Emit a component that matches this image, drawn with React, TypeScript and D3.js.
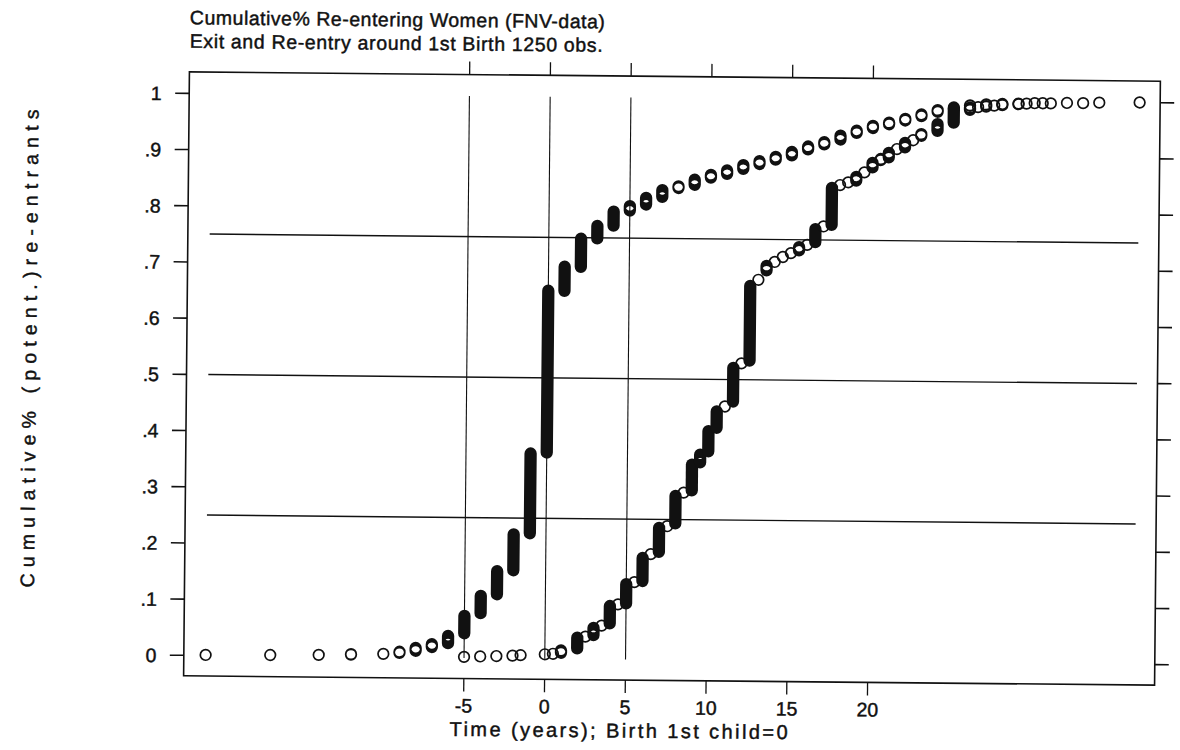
import * as d3 from "d3";

// ---------------- data ----------------
// exit from the labour market, years relative to 1st birth
const exitTime = [-21, -17, -14, -12, -10, -9, -8, -7, -6, -5, -4, -3, -2, -1, 0, 1, 2, 3, 4, 5, 6, 7, 8, 9, 10, 11, 12, 13, 14, 15, 16, 17, 18, 19, 20, 21, 22, 23, 24, 25, 26, 27, 28, 29, 30, 31, 32, 33, 34, 36.5];
const exitLo = [0.001, 0.002, 0.003, 0.004, 0.006, 0.008, 0.012, 0.019, 0.026, 0.044, 0.08, 0.114, 0.157, 0.223, 0.367, 0.655, 0.698, 0.749, 0.772, 0.799, 0.81, 0.824, 0.84, 0.846, 0.859, 0.866, 0.875, 0.884, 0.892, 0.9, 0.911, 0.92, 0.929, 0.941, 0.95, 0.957, 0.964, 0.972, 0.98, 0.986, 0.991, 0.993, 0.995, 0.996, 0.997, 0.997, 0.998, 0.998, 0.999, 1];
const exitHi = [0.001, 0.002, 0.003, 0.005, 0.006, 0.01, 0.017, 0.024, 0.039, 0.075, 0.111, 0.155, 0.221, 0.365, 0.655, 0.698, 0.748, 0.771, 0.797, 0.807, 0.822, 0.836, 0.843, 0.855, 0.864, 0.872, 0.882, 0.889, 0.897, 0.906, 0.916, 0.924, 0.936, 0.945, 0.954, 0.96, 0.967, 0.975, 0.983, 0.988, 0.992, 0.994, 0.995, 0.996, 0.997, 0.997, 0.998, 0.998, 0.999, 1];

// re-entry
const reTime = [-5, -4, -3, -2, -1.5, 0, 0.5, 1, 2, 2.5, 3, 3.5, 4, 4.5, 5, 5.5, 6, 6.5, 7, 7.5, 8, 8.5, 9, 9.5, 10, 10.5, 11, 11.5, 12, 12.5, 13, 13.5, 14, 14.5, 15, 15.5, 16, 16.5, 17, 17.5, 18, 18.5, 19, 19.5, 20, 20.5, 21, 21.5, 22, 22.5, 23, 24, 25, 26, 26.5, 27, 27.5, 28, 29, 29.5, 30.5];
const reLo = [0.002, 0.003, 0.004, 0.005, 0.006, 0.008, 0.009, 0.011, 0.019, 0.04, 0.043, 0.06, 0.064, 0.098, 0.1, 0.138, 0.14, 0.188, 0.192, 0.238, 0.243, 0.298, 0.302, 0.352, 0.372, 0.414, 0.452, 0.461, 0.529, 0.534, 0.678, 0.695, 0.71, 0.719, 0.726, 0.731, 0.741, 0.746, 0.774, 0.777, 0.848, 0.853, 0.856, 0.871, 0.88, 0.893, 0.898, 0.913, 0.916, 0.929, 0.937, 0.946, 0.961, 0.984, 0.989, 0.99, 0.992, 0.993, 0.995, 0.996, 0.997];
const reHi = [0.002, 0.003, 0.004, 0.005, 0.006, 0.008, 0.009, 0.015, 0.038, 0.04, 0.056, 0.06, 0.095, 0.098, 0.134, 0.138, 0.181, 0.188, 0.235, 0.238, 0.292, 0.298, 0.348, 0.366, 0.408, 0.443, 0.452, 0.521, 0.529, 0.667, 0.678, 0.703, 0.71, 0.719, 0.726, 0.737, 0.741, 0.769, 0.774, 0.843, 0.848, 0.853, 0.863, 0.871, 0.888, 0.895, 0.906, 0.913, 0.924, 0.929, 0.94, 0.958, 0.985, 0.988, 0.989, 0.991, 0.992, 0.994, 0.995, 0.996, 0.997];

const yTicks = [0, 0.1, 0.2, 0.3, 0.4, 0.5, 0.6, 0.7, 0.8, 0.9, 1];
const yTickLabels = ["0", ".1", ".2", ".3", ".4", ".5", ".6", ".7", ".8", ".9", "1"];
const xTicks = [-5, 0, 5, 10, 15, 20];
const refTimes = [-5, 0, 5];
const refLevels = [0.25, 0.5, 0.75];

const title1 = "Cumulative% Re-entering Women (FNV-data)";
const title2 = "Exit and Re-entry around 1st Birth 1250 obs.";
const xTitle = "Time (years); Birth 1st child=0";
const yTitle = "Cumulative% (potent.)re-entrants";

// ---------------- layout ----------------
const W = 1180, H = 750;
const left = 186.5, right = 1157.5, top = 76.5, bottom = 680.5;
const FONT = "'Liberation Sans', Arial, Helvetica, sans-serif";
const INK = "#111";
const R = 5.3; // marker radius
const SW = 1.7; // marker stroke

// overlapping hollow circles stacked from lo to hi, drawn as one outline with a hole
function stackPath(cx: number, y1: number, y2: number) {
  const a = R + SW / 2;
  const rho = R - SW / 2;
  let p = `M${cx - a},${y1}L${cx - a},${y2}A${a},${a} 0 0 0 ${cx + a},${y2}L${cx + a},${y1}A${a},${a} 0 0 0 ${cx - a},${y1}Z`;
  const s = y2 - y1;
  if (s < 2 * rho) {
    const h = Math.sqrt(rho * rho - (s * s) / 4);
    const m = (y1 + y2) / 2;
    p += `M${cx - h},${m}A${rho},${rho} 0 0 1 ${cx + h},${m}A${rho},${rho} 0 0 1 ${cx - h},${m}Z`;
  }
  return p;
}

const textInk = { fill: INK, stroke: INK, strokeWidth: 0.45 };

export default function App() {
  const x = d3.scaleLinear().domain([-22.35, 37.77]).range([left, right]);
  const y = d3.scaleLinear().domain([-0.0365, 1.0383]).range([bottom, top]);

  const allTimes = exitTime.concat(reTime);
  const [tMin, tMax] = d3.extent(allTimes) as [number, number];

  const series = [
    { t: exitTime, lo: exitLo, hi: exitHi },
    { t: reTime, lo: reLo, hi: reHi },
  ];

  return (
    <div>
      <style>{`body{margin:0;background:#fff}`}</style>
      <svg width={W} height={H} style={{ display: "block", background: "#fff" }} fontFamily={FONT}>
        <g transform="rotate(0.55 672 378)">
          {/* titles */}
          <text x={left} y={29} fontSize={19.5} textLength={415} lengthAdjust="spacing" {...textInk}>{title1}</text>
          <text x={left} y={52.5} fontSize={19.5} textLength={413} lengthAdjust="spacing" {...textInk}>{title2}</text>

          {/* frame */}
          <rect x={left} y={top} width={right - left} height={bottom - top} fill="none" stroke={INK} strokeWidth={1.6} />

          {/* y ticks both sides */}
          {yTicks.map((v, i) => (
            <g key={"yt" + i}>
              <line x1={left - 14} x2={left} y1={y(v)} y2={y(v)} stroke={INK} strokeWidth={1.6} />
              <line x1={right} x2={right + 14} y1={y(v)} y2={y(v)} stroke={INK} strokeWidth={1.6} />
              <text x={159} y={y(v) + 7} fontSize={19.5} textAnchor="end" {...textInk}>{yTickLabels[i]}</text>
            </g>
          ))}

          {/* x ticks top and bottom */}
          {xTicks.map((v) => (
            <g key={"xt" + v}>
              <line x1={x(v)} x2={x(v)} y1={bottom} y2={bottom + 13} stroke={INK} strokeWidth={1.3} />
              <line x1={x(v)} x2={x(v)} y1={top - 13} y2={top} stroke={INK} strokeWidth={1.3} />
              <text x={x(v)} y={714.5} fontSize={19.5} textAnchor="middle" {...textInk}>{v}</text>
            </g>
          ))}

          {/* reference lines */}
          {refTimes.map((v) => (
            <line key={"rv" + v} x1={x(v)} x2={x(v)} y1={y(1)} y2={y(0)} stroke={INK} strokeWidth={1.1} />
          ))}
          {refLevels.map((v) => (
            <line key={"rh" + v} x1={x(tMin)} x2={x(tMax)} y1={y(v)} y2={y(v)} stroke={INK} strokeWidth={1.4} />
          ))}

          {/* markers */}
          {series.map((s, si) =>
            s.t.map((t, i) => (
              <path key={si + "-" + i} d={stackPath(x(t), y(s.hi[i]), y(s.lo[i]))} fill={INK} fillRule="evenodd" />
            ))
          )}

          {/* axis titles */}
          <text x={622} y={738} fontSize={20} textAnchor="middle" textLength={338} lengthAdjust="spacing" {...textInk}>{xTitle}</text>
          <text transform={`translate(36,${354.7}) rotate(-90)`} fontSize={19.5} textAnchor="middle" textLength={478} lengthAdjust="spacing" {...textInk}>{yTitle}</text>
        </g>
      </svg>
    </div>
  );
}
